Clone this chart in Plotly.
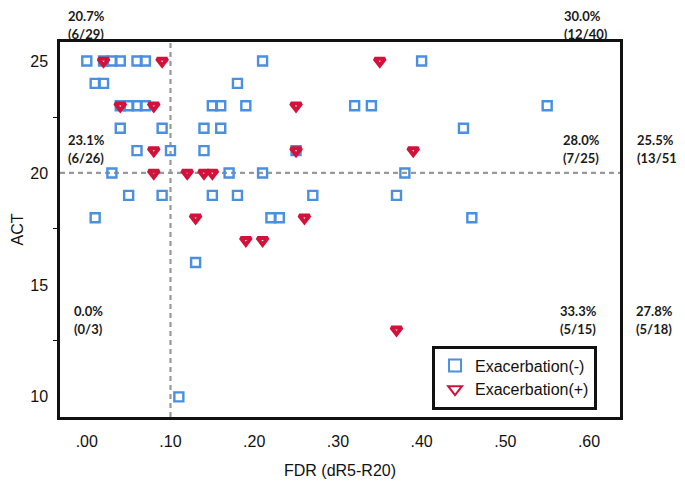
import plotly.graph_objects as go

# Exacerbation(-) : FDR (dR5-R20) vs ACT
neg_fdr = [0.00, 0.02, 0.03, 0.04, 0.06, 0.07, 0.21, 0.40,
           0.01, 0.02, 0.18,
           0.04, 0.05, 0.06, 0.07, 0.15, 0.16, 0.19, 0.32, 0.34, 0.55,
           0.04, 0.09, 0.14, 0.16, 0.45,
           0.06, 0.10, 0.14, 0.25,
           0.03, 0.17, 0.21, 0.38,
           0.05, 0.09, 0.15, 0.18, 0.27, 0.37,
           0.01, 0.22, 0.23, 0.46,
           0.13,
           0.11]
neg_act = [25, 25, 25, 25, 25, 25, 25, 25,
           24, 24, 24,
           23, 23, 23, 23, 23, 23, 23, 23, 23, 23,
           22, 22, 22, 22, 22,
           21, 21, 21, 21,
           20, 20, 20, 20,
           19, 19, 19, 19, 19, 19,
           18, 18, 18, 18,
           16,
           10]

# Exacerbation(+)
pos_fdr = [0.02, 0.09, 0.35,
           0.04, 0.08, 0.25,
           0.08, 0.25, 0.39,
           0.08, 0.12, 0.14, 0.15,
           0.13, 0.26,
           0.19, 0.21,
           0.37]
pos_act = [25, 25, 25,
           23, 23, 23,
           21, 21, 21,
           20, 20, 20, 20,
           18, 18,
           17, 17,
           13]

fdr_cut = 0.10
act_cut = 20

x_tickvals = [0.0, 0.1, 0.2, 0.3, 0.4, 0.5, 0.6]
x_ticktext = [".00", ".10", ".20", ".30", ".40", ".50", ".60"]
y_tickvals = [10, 15, 20, 25]

# exacerbation rates per region
rate_pct = ["20.7%", "30.0%", "23.1%", "28.0%", "25.5%", "0.0%", "33.3%", "27.8%"]
rate_frac = ["(6/29)", "(12/40)", "(6/26)", "(7/25)", "(13/51)", "(0/3)", "(5/15)", "(5/18)"]
rate_x = [0.012, 0.898, 0.012, 0.896, 1.028, 0.024, 0.891, 1.026]
rate_y = [1.046, 1.046, 0.715, 0.715, 0.715, 0.259, 0.259, 0.259]

fig = go.Figure()

fig.add_trace(
    go.Scatter(
        x=neg_fdr,
        y=neg_act,
        mode="markers",
        name="Exacerbation(-)",
        marker=dict(symbol="square-open", size=9, color="#4a8fe0",
                    line=dict(width=2.4, color="#4a8fe0")),
    )
)
fig.add_trace(
    go.Scatter(
        x=pos_fdr,
        y=pos_act,
        mode="markers",
        name="Exacerbation(+)",
        marker=dict(symbol="triangle-down-open", size=9, color="#d3123c",
                    line=dict(width=4, color="#d3123c")),
    )
)

# reference lines
fig.add_shape(type="line", xref="x", yref="paper", x0=fdr_cut, x1=fdr_cut,
              y0=0, y1=1, line=dict(color="#999999", width=2.2, dash="5px,4px"),
              layer="below")
fig.add_shape(type="line", xref="paper", yref="y", x0=0, x1=1,
              y0=act_cut, y1=act_cut,
              line=dict(color="#999999", width=2.2, dash="5px,4px"),
              layer="below")

label_font = dict(family="Lato", size=13, color="#1a1a1a", weight="bold")
for pct, frac, ax, ay in zip(rate_pct, rate_frac, rate_x, rate_y):
    for text, shift in ((pct, 9), (frac, -9)):
        fig.add_annotation(
            text=text, xref="paper", yref="paper", x=ax, y=ay, yshift=shift,
            xanchor="left", yanchor="middle", align="left", showarrow=False,
            borderpad=0, font=label_font,
        )

# page body adds an 8px offset, so the figure is 8px smaller than the window
fig.update_layout(
    width=677,
    height=474,
    margin=dict(l=52, r=65, t=34, b=65),
    plot_bgcolor="white",
    paper_bgcolor="white",
    font=dict(family="Liberation Sans", size=16, color="#111111"),
    showlegend=True,
    legend=dict(
        x=0.959, y=0.02, xanchor="right", yanchor="bottom",
        bgcolor="white", bordercolor="#111111", borderwidth=3,
        font=dict(family="Liberation Sans", size=16, color="#111111"),
        itemsizing="constant", tracegroupgap=0, itemwidth=30,
    ),
    xaxis=dict(
        range=[-0.032, 0.637],
        tickvals=x_tickvals,
        ticktext=x_ticktext,
        showgrid=False,
        zeroline=False,
        showline=True,
        linecolor="#111111",
        linewidth=2.5,
        mirror=True,
        ticks="",
        automargin=False,
        ticklabelstandoff=8,
        title=dict(text="FDR (dR5-R20)", standoff=16,
                   font=dict(size=16)),
    ),
    yaxis=dict(
        range=[9.1, 25.85],
        tickvals=y_tickvals,
        showgrid=False,
        zeroline=False,
        showline=True,
        linecolor="#111111",
        linewidth=2.5,
        mirror=True,
        ticks="",
        automargin=False,
        ticklabelstandoff=6,
        minor=dict(tickvals=[12.5, 17.5, 22.5], ticks="outside",
                   ticklen=4, tickcolor="#111111", tickwidth=1),
        title=dict(text="ACT", standoff=3, font=dict(size=16)),
    ),
)

fig.write_html("out.html")
